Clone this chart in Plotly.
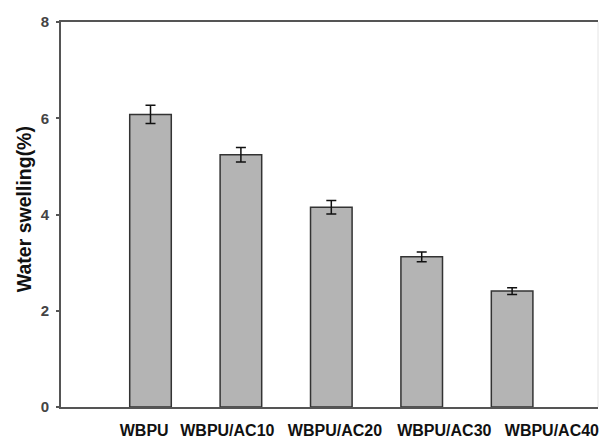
import plotly.graph_objects as go

# Water swelling of WBPU films with increasing AC content
samples = ["WBPU", "WBPU/AC10", "WBPU/AC20", "WBPU/AC30", "WBPU/AC40"]
swelling = [6.08, 5.24, 4.15, 3.12, 2.41]
swelling_err = [0.19, 0.15, 0.14, 0.10, 0.07]
y_ticks = [0, 2, 4, 6, 8]

positions = list(range(len(samples)))
# sample names are set slightly off the bar centres
label_offsets = [-0.07, -0.15, 0.04, 0.25, 0.44]
label_pos = [p + o for p, o in zip(positions, label_offsets)]

fig = go.Figure()
fig.add_trace(go.Bar(
    x=positions,
    y=swelling,
    width=0.46,
    marker=dict(color="#b4b4b4", line=dict(color="#333333", width=1.5)),
    error_y=dict(type="data", array=swelling_err, visible=True,
                 color="#111111", thickness=1.5, width=5),
    showlegend=False,
))

fig.update_layout(
    width=600, height=440,
    margin=dict(l=61, r=1, t=22, b=29),
    paper_bgcolor="white", plot_bgcolor="white",
    font=dict(family="Liberation Sans, Arial, sans-serif"),
    xaxis=dict(
        range=[-0.99, 4.95],
        tickmode="array", tickvals=label_pos,
        ticktext=[f"<b>{s}</b>" for s in samples],
        tickfont=dict(size=16, color="#111111", family="Liberation Sans, Arial"),
        ticks="outside", ticklen=8, tickcolor="rgba(0,0,0,0)",
        ticklabeloverflow="allow",
        showline=True, linecolor="#555555", linewidth=2, mirror=True,
        showgrid=False, zeroline=False,
    ),
    yaxis=dict(
        range=[0, 8],
        tickmode="array", tickvals=y_ticks,
        ticktext=[f"<b>{v}</b>" for v in y_ticks],
        tickfont=dict(size=15, color="#444444", family="Liberation Sans, Arial"),
        ticks="outside", ticklen=3, tickcolor="#555555", tickwidth=1.5,
        ticklabelstandoff=4,
        showline=True, linecolor="#555555", linewidth=2,
        showgrid=False, zeroline=False,
    ),
    shapes=[dict(type="line", xref="paper", yref="paper", x0=1, x1=1, y0=0, y1=1,
                 line=dict(color="#e4e4e4", width=1))],
    annotations=[dict(
        text="<b>Water swelling(%)</b>", textangle=-90,
        xref="paper", yref="paper", x=-37 / 538, y=0.514,
        xanchor="center", yanchor="middle", showarrow=False,
        font=dict(size=19.5, color="#111111", family="Liberation Sans, Arial"),
    )],
)

fig.write_html("out.html")
